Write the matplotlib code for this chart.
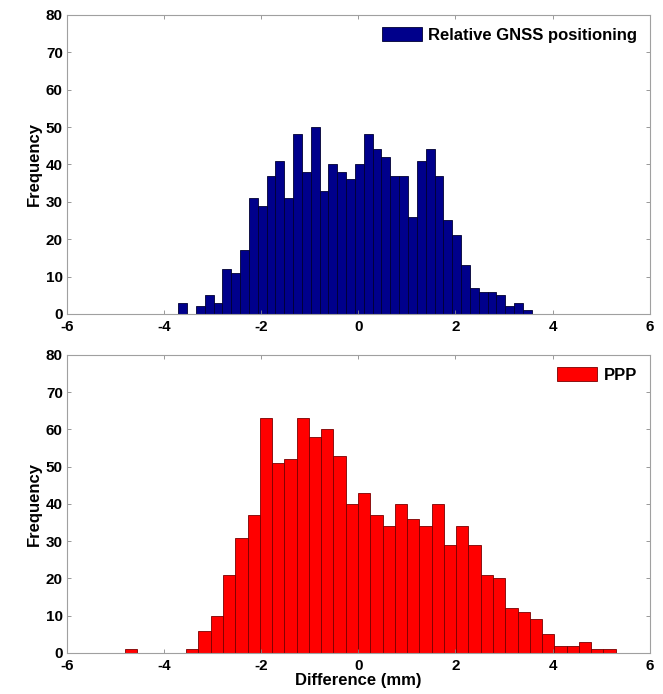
import numpy as np
import matplotlib
matplotlib.use("Agg")
import matplotlib.pyplot as plt

plt.rcParams['font.family'] = ['Liberation Sans', 'DejaVu Sans']
plt.rcParams['font.weight'] = 'bold'

# Histogram of relative GNSS positioning differences (40 bins)
rel_range = (-3.71, 3.57)
rel_counts = [3, 0, 2, 5, 3, 12, 11, 17, 31, 29, 37, 41, 31, 48, 38, 50, 33,
              40, 38, 36, 40, 48, 44, 42, 37, 37, 26, 41, 44, 37, 25, 21, 13,
              7, 6, 6, 5, 2, 3, 1]

# Histogram of PPP differences (40 bins)
ppp_range = (-4.81, 5.30)
ppp_counts = [1, 0, 0, 0, 0, 1, 6, 10, 21, 31, 37, 63, 51, 52, 63, 58, 60,
              53, 40, 43, 37, 34, 40, 36, 34, 40, 29, 34, 29, 21, 20, 12, 11,
              9, 5, 2, 2, 3, 1, 1]

x_ticks = [-6, -4, -2, 0, 2, 4, 6]
y_ticks = [0, 10, 20, 30, 40, 50, 60, 70, 80]

fig = plt.figure(figsize=(6.63, 6.94), dpi=100)
ax_top = fig.add_axes([0.101, 0.5476, 0.879, 0.431])
ax_bot = fig.add_axes([0.101, 0.0591, 0.879, 0.4294])

def draw_hist(ax, rng, counts, color, edge, label):
    edges = np.linspace(rng[0], rng[1], len(counts) + 1)
    widths = np.diff(edges)
    ax.bar(edges[:-1], counts, width=widths, align='edge', color=color,
           edgecolor=edge, linewidth=0.6, label=label)
    ax.set_xlim(-6, 6)
    ax.set_ylim(0, 80)
    ax.set_xticks(x_ticks)
    ax.set_yticks(y_ticks)
    ax.set_xticklabels([str(t) for t in x_ticks])
    ax.tick_params(direction='in', length=3, width=0.6, color='#888888',
                   labelsize=11, top=True, right=True)
    ax.tick_params(axis='x', pad=4)
    ax.tick_params(axis='y', pad=3)
    for lbl in ax.get_xticklabels() + ax.get_yticklabels():
        lbl.set_fontweight('bold')
    for s in ax.spines.values():
        s.set_color('#a0a0a0')
        s.set_linewidth(0.8)
    ax.set_ylabel('Frequency', fontsize=12, fontweight='bold', labelpad=3)
    leg = ax.legend(loc='upper right', frameon=False, fontsize=12,
                    handlelength=2.4, handleheight=0.9, borderaxespad=0.35,
                    handletextpad=0.4)
    for t in leg.get_texts():
        t.set_fontweight('bold')

draw_hist(ax_top, rel_range, rel_counts, '#00008B', '#000033',
          'Relative GNSS positioning')
draw_hist(ax_bot, ppp_range, ppp_counts, '#FF0000', '#7a0000', 'PPP')
ax_bot.set_xlabel('Difference (mm)', fontsize=12, fontweight='bold', labelpad=0)

fig.savefig('out.png', dpi=100)
